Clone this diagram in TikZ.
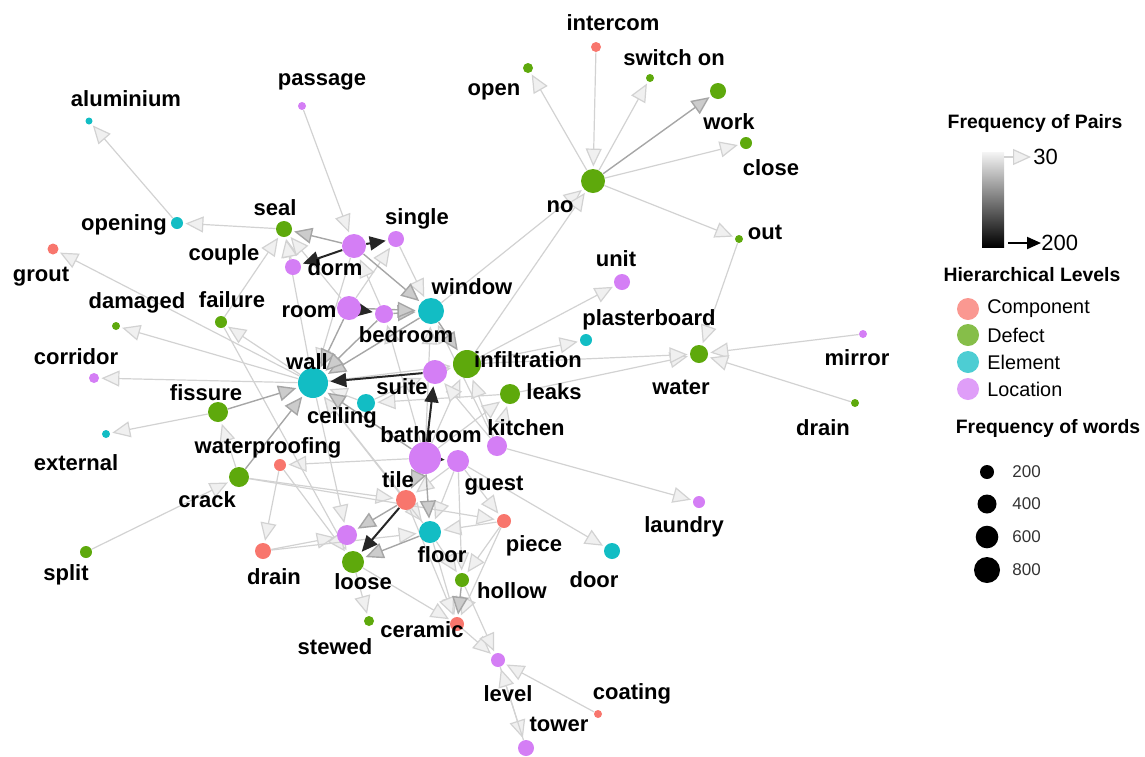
\documentclass[tikz,border=0pt]{standalone}
\usepackage{fontspec}
\setmainfont{Liberation Sans}
\usepackage{tikz}
\usetikzlibrary{arrows.meta,backgrounds}
\definecolor{cC}{HTML}{F8766D}
\definecolor{cD}{HTML}{5EA90C}
\definecolor{cE}{HTML}{12BDC4}
\definecolor{cL}{HTML}{D47EF5}
\tikzset{
  dot/.style={circle,inner sep=0pt,draw=none},
  lbl/.style={font=\fontsize{11}{12}\selectfont\bfseries,inner sep=0pt},
  ttl/.style={font=\fontsize{9.7}{11}\selectfont\bfseries,inner sep=0pt},
  keytxt/.style={font=\fontsize{9.9}{11}\selectfont,inner sep=0pt,anchor=west},
  numtxt/.style={font=\fontsize{8.5}{10}\selectfont,text=black!80,inner sep=0pt,anchor=west},
  e1/.style={draw=gray!35,line width=0.6pt,shorten >=1pt,-{Triangle[length=9pt,width=8pt,fill=gray!12]}},
  e2/.style={draw=gray!70,line width=0.7pt,shorten >=1pt,-{Triangle[length=9pt,width=8pt,fill=gray!40]}},
  e3/.style={draw=black!85,line width=1pt,shorten >=1pt,-{Triangle[length=8pt,width=7pt]}}
}

\begin{document}
\begin{tikzpicture}[x=0.5pt,y=-0.5pt]
  \useasboundingbox (0,0) rectangle (1145,756);
  % words
  \foreach \n/\x/\y/\c/\s/\lx/\ly/\t in {
    intercom/596/47/cC/5/613/23/intercom, open/528/68/cD/5/494/92/open,
    switchon/650/78/cD/4/674/58/switch on, work/718/91/cD/8/729/122/work,
    close/746/143/cD/6/771/168/close, no/593/181/cD/12/560/207/no,
    out/739/239/cD/4/765/232/out, aluminium/89/121/cE/3.5/126/99/aluminium,
    passage/302/106/cL/4/322/82/passage, opening/177/223/cE/6/124/225/opening,
    seal/284/229/cD/8/275/208/seal, single/396/239/cL/8/417/219/single,
    dorm/354/246/cL/12/335/268/dorm, couple/293/267/cL/8/224/255/couple,
    room/349/308/cL/12/309/312/room, bedroom/384/314/cL/9/406/335/bedroom,
    window/431/311/cE/13/472/287/window, unit/622/282/cL/8/616/259/unit,
    plasterboard/586/340/cE/6/649/320/plasterboard, infiltration/467/364/cD/14/528/360/infiltration,
    leaks/510/394/cD/10/554/392/leaks, water/699/354/cD/9/681/387/water,
    mirror/863/334/cL/4/857/358/mirror, drainR/855/403/cD/4/823/428/drain,
    grout/53/249/cC/5.5/41/277/grout, damaged/116/326/cD/4/137/303/damaged,
    failure/221/322/cD/6/232/300/failure, corridor/94/378/cL/5/76/357/corridor,
    wall/313/383/cE/15/307/362/wall, suite/435/372/cL/12/402/387/suite,
    ceiling/366/403/cE/9/342/418/ceiling, fissure/218/412/cD/10/206/393/fissure,
    external/106/434/cE/4/76/463/external, wp/280/465/cC/6/268/448/waterproofing,
    crack/239/477/cD/10/207/500/crack, split/86/552/cD/6/66/575/split,
    bathroom/425/458/cL/16/431/435/bathroom, guest/458/461/cL/11/494/486/guest,
    kitchen/497/446/cL/10/526/428/kitchen, laundry/699/502/cL/6/684/527/laundry,
    tile/406/500/cC/10/398/480/tile, piece/504/521/cC/7/534/546/piece,
    drainL/263/551/cC/8/274/577/drain, floor/430/532/cE/11/442/555/floor,
    loose/353/562/cD/11/363/582/loose, hollow/462/580/cD/7/512/591/hollow,
    door/612/551/cE/8/594/580/door, stewed/369/621/cD/5/335/647/stewed,
    ceramic/457/624/cC/7/422/630/ceramic, level/498/660/cL/7/508/694/level,
    coating/598/714/cC/4/632/694/coating, tower/526/748/cL/8/559/724/tower}
  { \node[dot,fill=\c,minimum size=\s pt] (\n) at (\x,\y) {};
    \node[lbl] (\n-l) at (\lx,\ly) {\t}; }
  \node[dot,fill=cL,minimum size=10pt] (place) at (347,535) {};
  % pairs
  \begin{scope}[on background layer]
    \foreach \a/\b in {intercom/no, no/open, no/switchon, no/close, no/out, window/no,
      infiltration/no, out/water, mirror/water, drainR/water, leaks/water, infiltration/water,
      infiltration/plasterboard, infiltration/unit, opening/aluminium, seal/opening,
      couple/seal, room/seal, wall/seal, passage/dorm, wall/grout, wall/damaged,
      wall/failure, wall/corridor, fissure/external, crack/fissure, split/crack,
      wp/drainL, bathroom/wp, drainL/place, wall/place, crack/tile, failure/loose,
      single/window, dorm/wall, leaks/ceiling, suite/infiltration, bathroom/infiltration,
      bathroom/leaks, kitchen/leaks, kitchen/infiltration, kitchen/laundry, tile/floor,
      guest/tile, guest/floor, guest/piece, piece/floor, piece/hollow, piece/ceramic,
      floor/hollow, floor/ceramic, ceramic/level, hollow/level, coating/level,
      level/tower, tower/level, loose/stewed, loose/ceramic, tile/ceramic, guest/door,
      wp/loose, bathroom/window, bathroom/bedroom, ceiling/wall, floor/wall, kitchen/window,
      wall/infiltration, crack/piece, ceiling/suite, room/single, bedroom/dorm,
      failure/seal, tile/wall, kitchen/suite, guest/hollow, drainL/floor}
      \draw[e1] (\a) -- (\b);
    \foreach \a/\b in {no/work, dorm/seal, fissure/wall, crack/wall, floor/loose,
      bedroom/window, room/window, dorm/window, window/wall, room/wall, bedroom/wall,
      window/infiltration, bathroom/tile, bathroom/floor, hollow/ceramic, bathroom/wall, tile/place}
      \draw[e2] (\a) -- (\b);
    \foreach \a/\b in {dorm/single, dorm/couple, room/bedroom, suite/wall,
      bathroom/suite, bathroom/guest, tile/loose}
      \draw[e3] (\a) -- (\b);
  \end{scope}
  % legend
  \node[ttl] (fp) at (1035,123) {Frequency of Pairs};
  \shade[top color=gray!8,bottom color=black] (982,152) rectangle (1004,247);
  \coordinate (g30) at (1004,157);
  \node[font=\fontsize{11}{12}\selectfont,inner sep=0pt,anchor=west] (v30) at (1033,157) {30};
  \draw[e1] (g30) -- (v30.west);
  \coordinate (g200) at (1008,243);
  \node[font=\fontsize{11}{12}\selectfont,inner sep=0pt,anchor=west] (v200) at (1041,243) {200};
  \draw[black,line width=1pt,-{Triangle[length=7pt,width=6pt]}] (g200) -- (v200.west);
  \node[ttl] (hl) at (1032,275) {Hierarchical Levels};
  \foreach \t/\c/\y in {Component/cC/309, Defect/cD/335, Element/cE/362, Location/cL/389}
    { \node[dot,fill=\c!75,minimum size=11pt] (k\t) at (968,\y) {};
      \node[keytxt] (k\t-l) at (987,\y) {\t}; }
  \node[ttl] (fw) at (1048,428) {Frequency of words};
  \foreach \v/\y/\s in {200/472/7, 400/504/9.5, 600/537/11.3, 800/570/13}
    { \node[dot,fill=black,minimum size=\s pt] (w\v) at (987,\y) {};
      \node[numtxt] (w\v-l) at (1012,\y) {\v}; }
\end{tikzpicture}
\end{document}
